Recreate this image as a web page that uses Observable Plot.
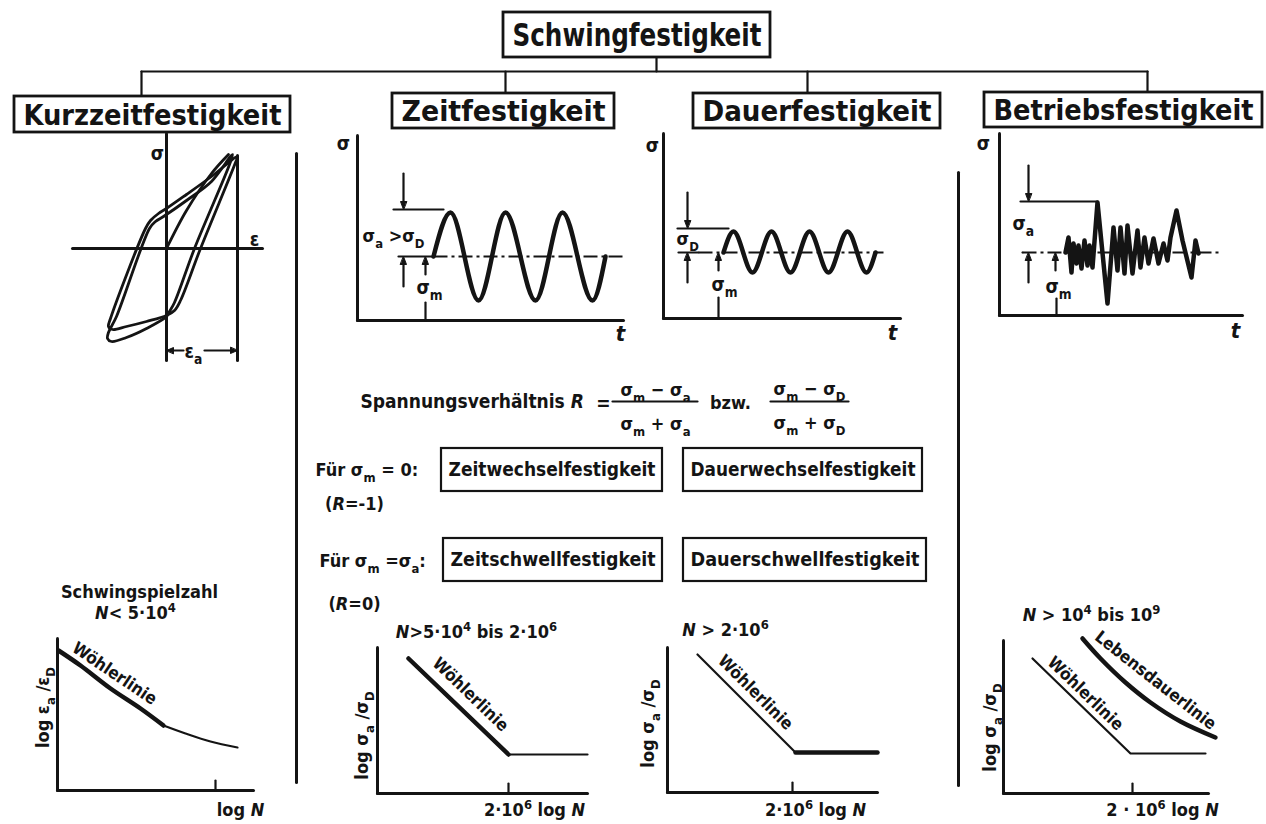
<!DOCTYPE html>
<html><head><meta charset="utf-8">
<script src="https://cdn.jsdelivr.net/npm/d3@7"></script>
<script src="https://cdn.jsdelivr.net/npm/@observablehq/plot@0.6"></script>
<style>
html,body{margin:0;padding:0;background:#fff;}
#chart{width:1266px;height:824px;overflow:hidden;}
</style></head><body><div id="chart"></div>
<script>
// ================= DATA =================
const rootLabel = "Schwingfestigkeit";
const categories = ["Kurzzeitfestigkeit", "Zeitfestigkeit", "Dauerfestigkeit", "Betriebsfestigkeit"];
const ratioLabel = "Spannungsverhältnis *R*";
const ratioNumerators = ["σ_{m} − σ_{a}", "σ_{m} − σ_{D}"];
const ratioDenominators = ["σ_{m} + σ_{a}", "σ_{m} + σ_{D}"];
const ratioCases = ["Für σ_{m} = 0:", "Für σ_{m} =σ_{a}:"];
const ratioValues = ["(*R*=-1)", "(*R*=0)"];
const zeitStrengths = ["Zeitwechselfestigkeit", "Zeitschwellfestigkeit"];
const dauerStrengths = ["Dauerwechselfestigkeit", "Dauerschwellfestigkeit"];
const cycleRanges = ["*N*< 5·10^{4}", "*N*>5·10^{4} bis 2·10^{6}", "*N* > 2·10^{6}", "*N* > 10^{4} bis 10^{9}"];
const xAxisLabels = ["log *N*", "2·10^{6} log *N*", "2·10^{6} log *N*", "2 · 10^{6} log *N*"];
const yAxisLabels = ["log ε_{a} /ε_{D}", "log σ_{a} /σ_{D}", "log σ_{a} /σ_{D}", "log σ_{a} /σ_{D}"];

// hysteresis loops, [strain ε, stress σ]
const hystLoopA = [[71,92],[69,86],[34,0],[14,-52],[8,-62],[0,-67],[-20,-73],[-40,-78],[-54,-81],[-58,-78],[-56,-70],[-21,20],[-16,28],[-8,35],[0,40],[20,54],[45,72]];
const hystLoopB = [[66,94],[63,84],[28,0],[8,-54],[3,-63],[0,-68],[-20,-80],[-40,-89],[-55,-93],[-59,-90],[-58,-84],[-50,-68],[-17,20],[-11,27],[-3,32],[20,48],[45,67]];
const hystVirgin = [[0,0],[20,38],[45,75],[62,94]];
const strainAmplitude = 71;

// stress-time signals, [t, σ]
const zeitMean = 64, zeitTop = 111;
const zeitWave = [[76,64],[93,108],[121,20],[148,108],[178,20],[205,108],[235,20],[248,64]];
const dauerMean = 66, dauerTop = 90;
const dauerWave = [[60,66],[70,87],[89,46],[108,87],[127,46],[146,87],[165,46],[184,87],[203,46],[212,66]];
const betriebMean = 63, betriebTop = 114;
const betriebSignal = [[66,63],[69,78],[72,43],[74,72],[77,52],[79,70],[82,47],[85,75],[88,50],[90,70],[93,48],[98,113],[108,12],[114,88],[118,45],[121,88],[125,42],[128,90],[133,42],[138,85],[141,48],[145,78],[149,52],[154,77],[159,52],[164,72],[168,55],[171,78],[177,105],[183,75],[192,38],[196,75],[199,62]];

// S-N curves, [log N, log amplitude]
const woehlerKurz = [[1,140],[23,125],[53,102],[83,82],[106,65]];
const woehlerKurzTail = [[106,65],[128,57],[153,49],[180,43]];
const woehlerZeit = [[31,135],[131,39]];
const enduranceZeit = [[131,39],[210,39]];
const woehlerDauer = [[30,138],[128,40]];
const enduranceDauer = [[128,40],[210,40]];
const woehlerBetrieb = [[29,135],[127,40],[202,40]];
const lebensdauer = [[79,155],[97,135],[122,111],[147,91],[177,72],[212,56]];

// ================= LAYOUT =================
const W = 1266, H = 824, ink = "#141414";
const FONT = "'DejaVu Sans Condensed','Liberation Sans Narrow','DejaVu Sans',sans-serif";
const L = {
  root: {x1:503, x2:770, y1:12, y2:57, stem:656},
  branchY: 71,
  heads: [
    {x1:14, x2:290, y1:96, y2:132, stem:141},
    {x1:392, x2:614, y1:93, y2:128, stem:505},
    {x1:693, x2:940, y1:93, y2:128, stem:807},
    {x1:984, x2:1262, y1:92, y2:127, stem:1147}
  ],
  separators: [{x:296, y1:153, y2:782}, {x:958, y1:172, y2:785}],
  hyst: {ox:166, oy:248}, zeit: {ox:357, oy:320}, dauer: {ox:663, oy:318}, betrieb: {ox:999, oy:315},
  wK: {ox:57, oy:790}, wZ: {ox:377, oy:793}, wD: {ox:667, oy:792}, wB: {ox:1003, oy:793},
  subBoxes: [
    {x1:441, x2:662, y1:448, y2:491}, {x1:683, x2:922, y1:448, y2:491},
    {x1:443, x2:662, y1:538, y2:581}, {x1:683, x2:926, y1:538, y2:581}
  ]
};
const pt = (panel, u, v) => panel === "page" ? {x:u, y:v} : {x: L[panel].ox + u, y: L[panel].oy - v};
const pts = (panel, arr) => arr.map(([u, v]) => pt(panel, u, v));
const seg = (panel, u1, v1, u2, v2) => { const a = pt(panel,u1,v1), b = pt(panel,u2,v2); return {x1:a.x, y1:a.y, x2:b.x, y2:b.y}; };

const segsThick = [], segsMed = [], dashSegs = [], heads = [];
const textsMid = [], textsStart = [];
function head(panel, u, v, dir, len = 8, wid = 3) {
  const tip = pt(panel, u, v);
  const d = {up:[0,-1], down:[0,1], left:[-1,0], right:[1,0]}[dir];
  const bx = tip.x - d[0]*len, by = tip.y - d[1]*len;
  const id = heads.length;
  heads.push({id, x: tip.x, y: tip.y}, {id, x: bx - d[1]*wid, y: by + d[0]*wid}, {id, x: bx + d[1]*wid, y: by - d[0]*wid});
}
function arrow(panel, u, v1, v2) {
  segsMed.push(seg(panel, u, v1, u, v2 + (v2 > v1 ? -4 : 4)));
  head(panel, u, v2, v2 > v1 ? "up" : "down");
}
function txt(panel, u, v, text, size, anchor = "middle", rotate = 0) {
  const p = pt(panel, u, v);
  (anchor === "start" ? textsStart : textsMid).push({...p, text, size, rotate});
}

// ---- tree ----
segsMed.push({x1:L.root.stem, y1:L.root.y2, x2:L.root.stem, y2:L.branchY});
segsMed.push({x1:L.heads[0].stem, y1:L.branchY, x2:L.heads[3].stem, y2:L.branchY});
L.heads.forEach(h => segsMed.push({x1:h.stem, y1:L.branchY, x2:h.stem, y2:h.y1}));
const treeBoxes = [{...L.root, label: rootLabel, size: 32}, ...L.heads.map((h, i) => ({...h, label: categories[i], size: 29}))];
L.separators.forEach(s => segsThick.push({x1:s.x, y1:s.y1, x2:s.x, y2:s.y2}));

// ---- hysteresis ----
segsThick.push(seg("hyst", 0, -112, 0, 115), seg("hyst", -94, 0, 96, 0), seg("hyst", strainAmplitude, 93, strainAmplitude, -112));
segsMed.push(seg("hyst", 4, -102, 17, -102), seg("hyst", 38, -102, strainAmplitude - 4, -102));
head("hyst", 0, -102, "left", 7, 3); head("hyst", strainAmplitude, -102, "right", 7, 3);
txt("hyst", -9, 95, "σ", 19); txt("hyst", 88, 9, "ε", 19); txt("hyst", 27, -103, "ε_{a}", 19);

// ---- stress-time panels ----
function timePanel(p, axLen, tLen, mean, top, refFrom, refTo, meanFrom, dashFrom, dashTo, arrowT, smT, tickT, tickH) {
  segsThick.push(seg(p, 0, 0, 0, axLen), seg(p, 0, 0, tLen, 0));
  segsMed.push(seg(p, refFrom, top, refTo, top));
  segsMed.push(seg(p, meanFrom, mean, dashFrom, mean));
  dashSegs.push(seg(p, dashFrom, mean, dashTo, mean));
  arrow(p, arrowT, top + 36, top);
  arrow(p, arrowT, mean - 30, mean);
  arrow(p, smT, mean - 18, mean);
  segsMed.push(seg(p, tickT, 0, tickT, tickH));
}
timePanel("zeit", 185, 266, zeitMean, zeitTop, 36, 86, 41, 76, 265, 46, 68, 68, 18);
txt("zeit", -14, 177, "σ", 19); txt("zeit", 263, -13, "*t*", 22);
txt("zeit", 5, 84, "σ_{a} >σ_{D}", 18, "start"); txt("zeit", 59, 33, "σ_{m}", 19, "start");
timePanel("dauer", 185, 237, dauerMean, dauerTop, 14, 65, 15, 35, 220, 24, 55, 55, 21);
txt("dauer", -11, 173, "σ", 19); txt("dauer", 229, -14, "*t*", 22);
txt("dauer", 13, 79, "σ_{D}", 18, "start"); txt("dauer", 48, 34, "σ_{m}", 19, "start");
timePanel("betrieb", 182, 243, betriebMean, betriebTop, 21, 98, 23, 23, 219, 29, 56, 57, 17);
txt("betrieb", -16, 172, "σ", 19); txt("betrieb", 236, -15, "*t*", 22);
txt("betrieb", 13, 92, "σ_{a}", 19, "start"); txt("betrieb", 46, 29, "σ_{m}", 19, "start");

// ---- ratio block ----
txt("page", 360, 401, ratioLabel, 19, "start");
txt("page", 603, 403, "=", 19);
txt("page", 655, 390, ratioNumerators[0], 18); txt("page", 655, 424, ratioDenominators[0], 18);
txt("page", 730, 403, "bzw.", 18);
txt("page", 809, 389, ratioNumerators[1], 18); txt("page", 809, 423, ratioDenominators[1], 18);
segsMed.push({x1:612, y1:401, x2:697, y2:401}, {x1:770, y1:401, x2:848, y2:401});
txt("page", 315, 470, ratioCases[0], 18, "start"); txt("page", 354, 504, ratioValues[0], 18);
txt("page", 319, 561, ratioCases[1], 18, "start"); txt("page", 354, 604, ratioValues[1], 18);
const subBoxes = L.subBoxes.map((b, i) => ({...b, label: [zeitStrengths[0], dauerStrengths[0], zeitStrengths[1], dauerStrengths[1]][i], size: 19.5}));

// ---- S-N panels ----
const wPanels = [
  {p:"wK", yLen:152, xLen:196, tick:158, head:[78,177], xl:[183,-20], yl:[-14,83]},
  {p:"wZ", yLen:146, xLen:210, tick:131, head:[99,161], xl:[157,-17], yl:[-15,58]},
  {p:"wD", yLen:145, xLen:210, tick:125, head:[58,162], xl:[148,-18], yl:[-19,69]},
  {p:"wB", yLen:153, xLen:205, tick:129, head:[88,178], xl:[159,-17], yl:[-13,66]}
];
wPanels.forEach((w, i) => {
  segsThick.push(seg(w.p, 0, 0, 0, w.yLen), seg(w.p, 0, 0, w.xLen, 0));
  segsMed.push(seg(w.p, w.tick, 0, w.tick, 10));
  txt(w.p, w.head[0], w.head[1], cycleRanges[i], 18);
  txt(w.p, w.xl[0], w.xl[1], xAxisLabels[i], 18);
  txt(w.p, w.yl[0], w.yl[1], yAxisLabels[i], 18, "middle", -90);
});
txt("wK", 82, 198, "Schwingspielzahl", 18);
txt("wK", 57, 117, "Wöhlerlinie", 17, "middle", 34);
txt("wZ", 93, 99, "Wöhlerlinie", 17, "middle", 44);
txt("wD", 88, 100, "Wöhlerlinie", 17, "middle", 45);
txt("wB", 82, 100, "Wöhlerlinie", 17, "middle", 44);
txt("wB", 152, 113, "Lebensdauerlinie", 17, "middle", 38);

// ================= PLOT =================
const lineXY = {x: "x", y: "y", stroke: ink, strokeLinejoin: "round", strokeLinecap: "round"};
const link = (data, sw, extra = {}) => Plot.link(data, {x1:"x1", y1:"y1", x2:"x2", y2:"y2", stroke: ink, strokeWidth: sw, strokeLinecap: "round", ...extra});
const chart = Plot.plot({
  width: W, height: H, margin: 0,
  x: {domain: [0, W], range: [0, W], axis: null},
  y: {domain: [0, H], range: [0, H], axis: null},
  style: {background: "#fff", fontFamily: FONT, fontWeight: "bold", overflow: "visible"},
  marks: [
    link(segsThick, 3),
    link(segsMed, 2.2),
    link(dashSegs, 2.2, {strokeDasharray: "14,4,3,4", strokeLinecap: "butt"}),
    Plot.line(heads, {x: "x", y: "y", z: "id", fill: ink, stroke: ink, strokeWidth: 1, curve: "linear-closed"}),
    Plot.rect(treeBoxes, {x1: "x1", x2: "x2", y1: "y1", y2: "y2", fill: "#fff", stroke: ink, strokeWidth: 2.8}),
    Plot.text(treeBoxes, {x: d => (d.x1 + d.x2) / 2, y: d => (d.y1 + d.y2) / 2 + 1, text: "label", fontSize: "size", fill: ink, className: "fit-tree"}),
    Plot.rect(subBoxes, {x1: "x1", x2: "x2", y1: "y1", y2: "y2", fill: "none", stroke: ink, strokeWidth: 2.2}),
    Plot.text(subBoxes, {x: d => (d.x1 + d.x2) / 2, y: d => (d.y1 + d.y2) / 2, text: "label", fontSize: "size", fill: ink, className: "fit-sub"}),
    Plot.line(pts("hyst", hystLoopA), {...lineXY, strokeWidth: 2.8, curve: "catmull-rom-closed"}),
    Plot.line(pts("hyst", hystLoopB), {...lineXY, strokeWidth: 2.8, curve: "catmull-rom-closed"}),
    Plot.line(pts("hyst", hystVirgin), {...lineXY, strokeWidth: 2.8, curve: "catmull-rom"}),
    Plot.line(pts("zeit", zeitWave), {...lineXY, strokeWidth: 4.5, curve: "monotone-x"}),
    Plot.line(pts("dauer", dauerWave), {...lineXY, strokeWidth: 4.5, curve: "monotone-x"}),
    Plot.line(pts("betrieb", betriebSignal), {...lineXY, strokeWidth: 4.5, curve: "linear"}),
    Plot.line(pts("wK", woehlerKurz), {...lineXY, strokeWidth: 4.5, curve: "catmull-rom"}),
    Plot.line(pts("wK", woehlerKurzTail), {...lineXY, strokeWidth: 2.2, curve: "catmull-rom"}),
    Plot.line(pts("wZ", woehlerZeit), {...lineXY, strokeWidth: 4.5}),
    Plot.line(pts("wZ", enduranceZeit), {...lineXY, strokeWidth: 2.2}),
    Plot.line(pts("wD", woehlerDauer), {...lineXY, strokeWidth: 2.2}),
    Plot.line(pts("wD", enduranceDauer), {...lineXY, strokeWidth: 4.5}),
    Plot.line(pts("wB", woehlerBetrieb), {...lineXY, strokeWidth: 2.2}),
    Plot.line(pts("wB", lebensdauer), {...lineXY, strokeWidth: 4.5, curve: "catmull-rom"}),
    Plot.text(textsMid, {x: "x", y: "y", text: "text", fontSize: "size", rotate: "rotate", fill: ink}),
    Plot.text(textsStart, {x: "x", y: "y", text: "text", fontSize: "size", rotate: "rotate", fill: ink, textAnchor: "start"})
  ]
});
document.getElementById("chart").appendChild(chart);

// fit box labels to their boxes
d3.select(chart).selectAll(".fit-tree text").each(function (i) {
  const b = treeBoxes[i]; this.setAttribute("textLength", b.x2 - b.x1 - 18); this.setAttribute("lengthAdjust", "spacingAndGlyphs");
});
d3.select(chart).selectAll(".fit-sub text").each(function (i) {
  const b = subBoxes[i]; this.setAttribute("textLength", b.x2 - b.x1 - 14); this.setAttribute("lengthAdjust", "spacingAndGlyphs");
});

// rich text: _{sub}, ^{sup}, *italic*
d3.select(chart).selectAll("text").each(function () {
  const el = this, str = el.textContent;
  if (!/[_^*]/.test(str)) return;
  const fs = parseFloat(getComputedStyle(el).fontSize) || 16;
  while (el.firstChild) el.removeChild(el.firstChild);
  const parts = str.split(/(_\{[^}]*\}|\^\{[^}]*\}|\*[^*]+\*)/).filter(s => s !== "");
  let shift = 0;
  for (const p of parts) {
    const ts = document.createElementNS("http://www.w3.org/2000/svg", "tspan");
    let t = p, target = 0;
    if (p.startsWith("_{")) { t = p.slice(2, -1); target = 0.32; ts.setAttribute("font-size", "72%"); }
    else if (p.startsWith("^{")) { t = p.slice(2, -1); target = -0.42; ts.setAttribute("font-size", "72%"); }
    else if (p.startsWith("*")) { t = p.slice(1, -1); ts.setAttribute("font-style", "italic"); }
    if (target !== shift) ts.setAttribute("dy", ((target - shift) * fs).toFixed(1));
    shift = target;
    ts.textContent = t;
    el.appendChild(ts);
  }
});
</script></body></html>
